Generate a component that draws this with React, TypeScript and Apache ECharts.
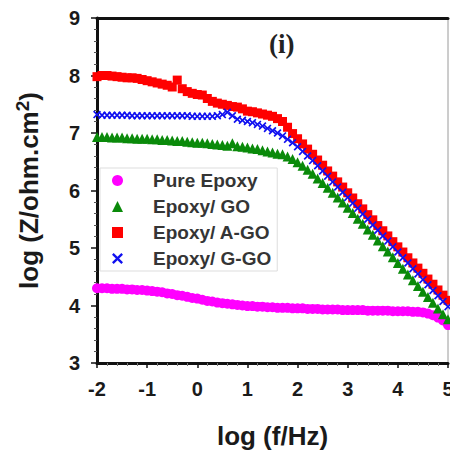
import React, { useEffect, useRef } from "react";
import * as echarts from "echarts";

const logF = [
  -2.0, -1.9, -1.8, -1.7, -1.6, -1.5, -1.4, -1.3, -1.2, -1.1,
  -1.0, -0.9, -0.8, -0.7, -0.6, -0.5, -0.4, -0.3, -0.2, -0.1,
  0.0, 0.1, 0.2, 0.3, 0.4, 0.5, 0.6, 0.7, 0.8, 0.9,
  1.0, 1.1, 1.2, 1.3, 1.4, 1.5, 1.6, 1.7, 1.8, 1.9,
  2.0, 2.1, 2.2, 2.3, 2.4, 2.5, 2.6, 2.7, 2.8, 2.9,
  3.0, 3.1, 3.2, 3.3, 3.4, 3.5, 3.6, 3.7, 3.8, 3.9,
  4.0, 4.1, 4.2, 4.3, 4.4, 4.5, 4.6, 4.7, 4.8, 4.9, 5.0,
];

const pureEpoxy = [
  4.30, 4.30, 4.30, 4.29, 4.29, 4.29, 4.28, 4.28, 4.27, 4.27,
  4.26, 4.25, 4.24, 4.23, 4.21, 4.20, 4.18, 4.17, 4.15, 4.13,
  4.12, 4.10, 4.08, 4.07, 4.05, 4.04, 4.03, 4.02, 4.01, 4.00,
  3.99, 3.99, 3.98, 3.98, 3.97, 3.97, 3.96, 3.96, 3.96, 3.95,
  3.95, 3.95, 3.94, 3.94, 3.94, 3.93, 3.93, 3.93, 3.93, 3.92,
  3.92, 3.92, 3.92, 3.92, 3.91, 3.91, 3.91, 3.91, 3.91, 3.90,
  3.90, 3.90, 3.90, 3.89, 3.89, 3.88, 3.86, 3.83, 3.79, 3.74, 3.66,
];

const epoxyGO = [
  6.93, 6.93, 6.93, 6.92, 6.92, 6.92, 6.91, 6.91, 6.90, 6.90,
  6.90, 6.89, 6.89, 6.88, 6.88, 6.87, 6.86, 6.86, 6.85, 6.84,
  6.83, 6.83, 6.82, 6.81, 6.80, 6.79, 6.78, 6.82, 6.77, 6.76,
  6.75, 6.73, 6.72, 6.70, 6.68, 6.66, 6.64, 6.63, 6.59, 6.55,
  6.49, 6.43, 6.36, 6.29, 6.21, 6.13, 6.05, 5.96, 5.88, 5.79,
  5.70, 5.61, 5.51, 5.42, 5.32, 5.23, 5.13, 5.03, 4.94, 4.84,
  4.74, 4.64, 4.54, 4.44, 4.34, 4.24, 4.15, 4.05, 3.95, 3.85, 3.76,
];

const epoxyAGO = [
  7.98, 8.00, 8.00, 7.99, 7.98, 7.97, 7.96, 7.96, 7.95, 7.93,
  7.91, 7.89, 7.87, 7.85, 7.83, 7.80, 7.92, 7.77, 7.72, 7.69,
  7.67, 7.66, 7.60, 7.55, 7.52, 7.50, 7.48, 7.46, 7.45, 7.42,
  7.38, 7.37, 7.35, 7.33, 7.31, 7.29, 7.25, 7.20, 7.10, 6.99,
  6.90, 6.81, 6.72, 6.63, 6.53, 6.44, 6.34, 6.25, 6.15, 6.06,
  5.96, 5.87, 5.77, 5.68, 5.58, 5.49, 5.39, 5.30, 5.21, 5.11,
  5.02, 4.93, 4.83, 4.74, 4.65, 4.56, 4.46, 4.37, 4.27, 4.18, 4.09,
];

const epoxyGGO = [
  7.32, 7.31, 7.31, 7.31, 7.31, 7.31, 7.31, 7.30, 7.30, 7.30,
  7.30, 7.30, 7.30, 7.30, 7.30, 7.30, 7.30, 7.30, 7.30, 7.29,
  7.29, 7.29, 7.29, 7.29, 7.30, 7.32, 7.36, 7.30, 7.24, 7.22,
  7.20, 7.18, 7.15, 7.12, 7.08, 7.04, 7.00, 6.95, 6.89, 6.83,
  6.76, 6.68, 6.60, 6.52, 6.43, 6.34, 6.25, 6.15, 6.06, 5.97,
  5.88, 5.78, 5.69, 5.59, 5.50, 5.40, 5.31, 5.21, 5.12, 5.02,
  4.93, 4.83, 4.74, 4.64, 4.55, 4.45, 4.36, 4.26, 4.17, 4.07, 3.98,
];

const seriesNames = ["Pure Epoxy", "Epoxy/ GO", "Epoxy/ A-GO", "Epoxy/ G-GO"];
const seriesColors = ["#ff00ff", "#0a8a0a", "#ff0000", "#1010f0"];

const CROSS =
  "path://M0,1.5 L1.5,0 L5,3.5 L8.5,0 L10,1.5 L6.5,5 L10,8.5 L8.5,10 L5,6.5 L1.5,10 L0,8.5 L3.5,5 Z";

const FONT = "'Liberation Sans', Arial, sans-serif";

function pairs(ys: number[]) {
  return logF.map((x, i) => [x, ys[i]]);
}

export default function App() {
  const ref = useRef<HTMLDivElement>(null);
  useEffect(() => {
    document.body.style.margin = "0";
    document.body.style.overflow = "hidden";
    const chart = echarts.init(ref.current!, null, { renderer: "svg" });
    const allData = [pureEpoxy, epoxyGO, epoxyAGO, epoxyGGO];
    const symbols = ["circle", "triangle", "rect", CROSS];
    const sizes = [10, 10, 9, 8];
    chart.setOption({
      animation: false,
      backgroundColor: "#ffffff",
      grid: {
        left: 97,
        right: 2,
        top: 18,
        bottom: 92,
        outerBoundsMode: "none",
        containLabel: false,
        show: true,
        borderColor: "#9a9a9a",
        borderWidth: 1,
      },
      title: {
        text: "(i)",
        left: 264,
        top: 25,
        textStyle: {
          fontFamily: "'Liberation Serif', 'Times New Roman', serif",
          fontWeight: "bold",
          fontSize: 27,
          color: "#222",
        },
      },
      legend: {
        orient: "vertical",
        left: 100,
        top: 168,
        padding: [3, 6, 3, 12],
        itemWidth: 11,
        itemHeight: 11,
        itemGap: 7,
        borderColor: "#dddddd",
        borderWidth: 1,
        backgroundColor: "#ffffff",
        data: seriesNames,
        textStyle: {
          fontFamily: FONT,
          fontWeight: "bold",
          fontSize: 19,
          lineHeight: 19,
          padding: [0, 0, 0, 25],
          color: "#353535",
        },
      },
      xAxis: [
        {
          type: "value",
          min: -2,
          max: 5,
          interval: 1,
          position: "bottom",
          name: "log (f/Hz)",
          nameLocation: "middle",
          nameGap: 60,
          nameTextStyle: {
            fontFamily: FONT,
            fontWeight: "bold",
            fontSize: 26,
            color: "#1a1a1a",
          },
          axisLine: { show: true, onZero: false, lineStyle: { color: "#111", width: 3 } },
          axisTick: { show: true, length: 5, lineStyle: { color: "#111", width: 1.5 } },
          minorTick: { show: true, splitNumber: 5, length: 3, lineStyle: { color: "#777" } },
          splitLine: { show: false },
          axisLabel: {
            margin: 16,
            fontFamily: FONT,
            fontWeight: "bold",
            fontSize: 20,
            color: "#1a1a1a",
          },
        },
        {
          type: "value",
          min: -2,
          max: 5,
          position: "top",
          axisLine: { show: true, onZero: false, lineStyle: { color: "#111", width: 3 } },
          axisTick: { show: false },
          axisLabel: { show: false },
          splitLine: { show: false },
        },
      ],
      yAxis: {
        type: "value",
        min: 3,
        max: 9,
        interval: 1,
        name: "{a|log (Z/ohm.cm}{s|2}{a|)}",
        nameLocation: "middle",
        nameGap: 52,
        nameTextStyle: {
          rich: {
            a: {
              fontFamily: FONT,
              fontWeight: "bold",
              fontSize: 26,
              lineHeight: 32,
              color: "#1a1a1a",
            },
            s: {
              fontFamily: FONT,
              fontWeight: "bold",
              fontSize: 19,
              lineHeight: 20,
              verticalAlign: "top",
              color: "#1a1a1a",
            },
          },
        },
        axisLine: { show: true, onZero: false, lineStyle: { color: "#111", width: 3 } },
        axisTick: { show: true, length: 6, lineStyle: { color: "#111", width: 1.5 } },
        minorTick: { show: true, splitNumber: 5, length: 3, lineStyle: { color: "#555" } },
        splitLine: { show: false },
        axisLabel: {
          margin: 17,
          fontFamily: FONT,
          fontWeight: "bold",
          fontSize: 20,
          color: "#1a1a1a",
        },
      },
      series: seriesNames.map((name, i) => ({
        name,
        type: "scatter",
        data: pairs(allData[i]),
        symbol: symbols[i],
        symbolSize: sizes[i],
        itemStyle: { color: seriesColors[i], opacity: 1 },
        clip: false,
        z: 2 + i,
      })),
    });
    return () => chart.dispose();
  }, []);
  return <div ref={ref} style={{ width: 450, height: 455 }} />;
}
